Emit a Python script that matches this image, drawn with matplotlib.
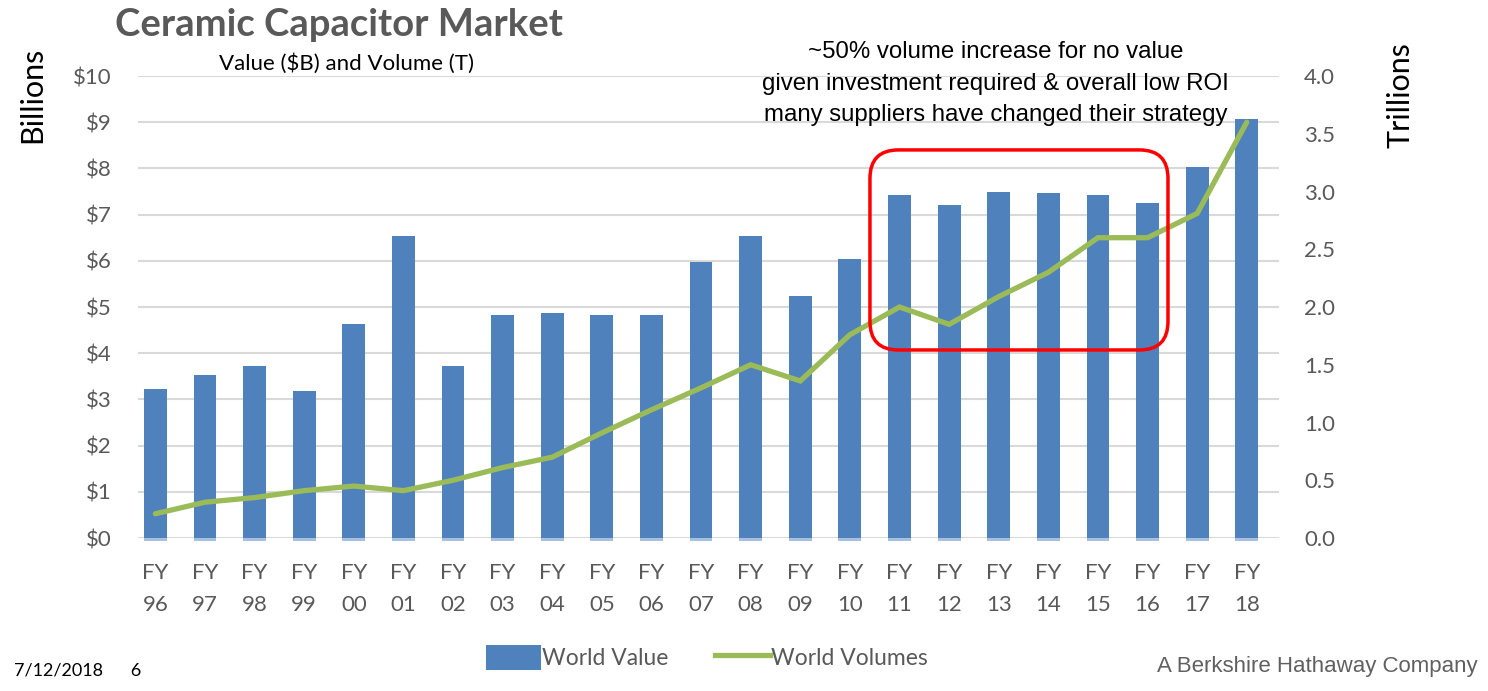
import matplotlib.pyplot as plt
from matplotlib.patches import FancyBboxPatch, Patch
from matplotlib.lines import Line2D

years = ["96", "97", "98", "99", "00", "01", "02", "03", "04", "05", "06", "07",
         "08", "09", "10", "11", "12", "13", "14", "15", "16", "17", "18"]
world_value = [3.22, 3.53, 3.72, 3.18, 4.63, 6.54, 3.72, 4.83, 4.87, 4.83, 4.83, 5.97,
               6.54, 5.24, 6.04, 7.42, 7.21, 7.49, 7.47, 7.42, 7.25, 8.03, 9.07]
world_volumes = [0.21, 0.31, 0.35, 0.41, 0.45, 0.41, 0.50, 0.61, 0.70, 0.91, 1.11, 1.30,
                 1.50, 1.36, 1.76, 2.00, 1.85, 2.09, 2.30, 2.60, 2.60, 2.81, 3.60]
left_ticks = list(range(0, 11))
right_ticks = [0.0, 0.5, 1.0, 1.5, 2.0, 2.5, 3.0, 3.5, 4.0]

BLUE = "#4F81BD"
GREEN = "#9BBB59"
GRAY = "#595959"

fig = plt.figure(figsize=(14.88, 6.91), dpi=100)
ax = fig.add_axes([138 / 1488, 0.2214, 1141 / 1488, 0.6686])
ax2 = ax.twinx()

x = list(range(len(years)))
ax.bar(x, world_value, width=0.46, color=BLUE, zorder=2)
# light base under each bar
ax.bar(x, [-0.07] * len(x), width=0.46, color="#A7C0DE", zorder=2, clip_on=False)

ax.set_xlim(-0.35, len(years) - 0.35)
ax.set_ylim(0, 10)
ax.set_yticks(left_ticks)
ax.set_yticklabels([f"${v}" for v in left_ticks])
ax.yaxis.grid(True, color="#D9D9D9", linewidth=1.5, zorder=0)
ax.set_axisbelow(True)
ax.set_xticks(x)
ax.set_xticklabels([f"FY\n{y}" for y in years], linespacing=1.75)

for spine in ax.spines.values():
    spine.set_visible(False)
for spine in ax2.spines.values():
    spine.set_visible(False)

ax.tick_params(axis="y", length=0, pad=19, labelsize=16, labelcolor=GRAY)
ax.tick_params(axis="x", length=0, pad=18, labelsize=16, labelcolor=GRAY)
for lbl in ax.get_xticklabels() + ax.get_yticklabels():
    lbl.set_family("Lato")

ax2.plot(x, world_volumes, color=GREEN, linewidth=3.8, solid_capstyle="round",
         solid_joinstyle="miter", zorder=3)
ax2.set_ylim(0, 4)
ax2.set_yticks(right_ticks)
ax2.set_yticklabels([f"{v:.1f}" for v in right_ticks])
ax2.tick_params(axis="y", length=0, pad=18, labelsize=16, labelcolor=GRAY)
for lbl in ax2.get_yticklabels():
    lbl.set_family("Lato")

# red highlight box
box = FancyBboxPatch((0.6415, 0.407), 0.2612, 0.433, transform=ax.transAxes,
                     boxstyle="round,pad=0,rounding_size=0.025", mutation_aspect=2.47,
                     facecolor="none", edgecolor="#FF0000", linewidth=2.5, zorder=5)
ax2.add_patch(box)

fig.text(0.0773, 0.964, "Ceramic Capacitor Market", fontsize=27.5, fontweight="bold",
         color=GRAY, family="Lato", va="center", ha="left")
fig.text(0.233, 0.908, "Value ($B) and Volume (T)", fontsize=16, color="black",
         family="Lato", va="center", ha="center")
fig.text(0.022, 0.862, "Billions", fontsize=22, rotation=90, family="Lato",
         va="center", ha="center")
fig.text(0.941, 0.862, "Trillions", fontsize=22, rotation=90, family="Lato",
         va="center", ha="center")
fig.text(0.669, 0.879,
         "~50% volume increase for no value\n"
         "given investment required & overall low ROI\n"
         "many suppliers have changed their strategy",
         fontsize=17.3, family="Liberation Sans", ha="center", va="center",
         linespacing=1.55)

handles = [Patch(facecolor=BLUE, edgecolor="none"),
           Line2D([0], [0], color=GREEN, linewidth=3.8)]
fig.legend(handles, ["World Value", "World Volumes"], loc="center",
           bbox_to_anchor=(0.475, 0.049), ncol=2, frameon=False,
           prop={"family": "Lato", "size": 16.5}, labelcolor=GRAY,
           handlelength=2.4, handleheight=1.3, handletextpad=0.05, columnspacing=2.0)

fig.text(0.0094, 0.030, "7/12/2018      6", fontsize=13, family="Lato", va="center")
fig.text(0.993, 0.035, "A Berkshire Hathaway Company", fontsize=16, color="#606060",
         family="Liberation Sans", ha="right", va="center")

fig.savefig("out.png", dpi=100)
